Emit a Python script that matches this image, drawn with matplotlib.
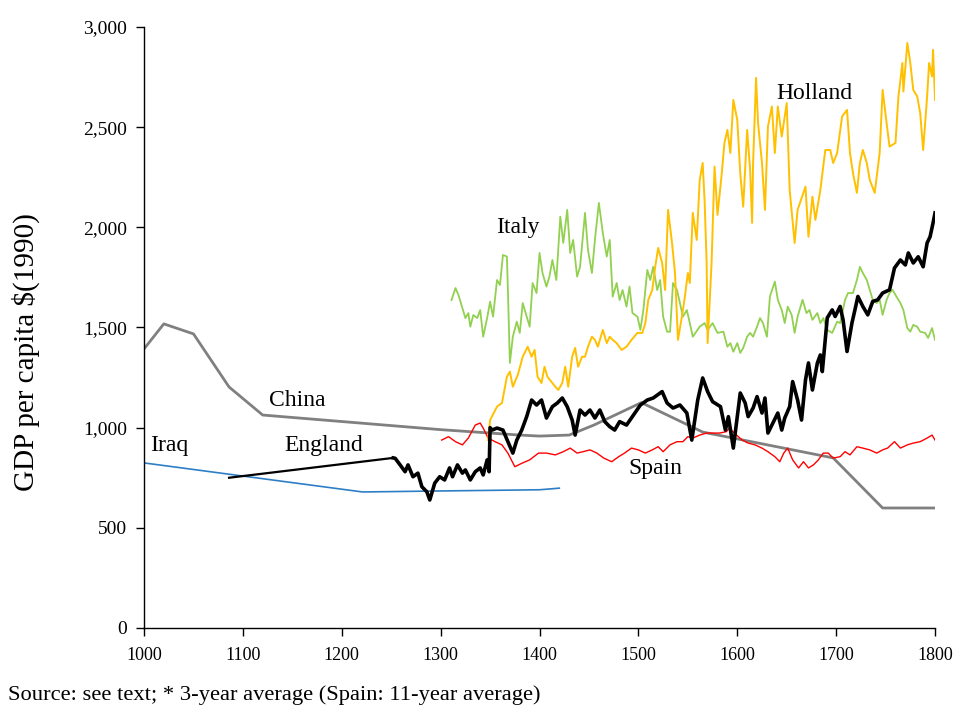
import matplotlib
matplotlib.use("Agg")
import matplotlib.pyplot as plt
from matplotlib.ticker import FuncFormatter

plt.rcParams['font.family'] = ['Liberation Serif', 'DejaVu Serif']

# ---------------- data ----------------
china_years = [1000, 1020, 1050, 1086, 1120, 1300, 1380, 1400, 1430, 1455, 1503, 1565, 1697, 1747, 1800]
china_vals = [1393, 1518, 1468, 1203, 1063, 990, 963, 958, 963, 1013, 1125, 978, 849, 599, 599]

iraq_years = [1000, 1221, 1300, 1400, 1420]
iraq_vals = [824, 679, 684, 690, 698]

eng_years = [1086, 1252, 1254, 1259, 1264, 1267, 1272, 1277, 1281, 1286,
             1289, 1294, 1299, 1304, 1309, 1312, 1317, 1322, 1325, 1330,
             1335, 1340, 1343, 1347, 1349, 1350, 1352, 1357, 1363, 1368,
             1373, 1377, 1382, 1387, 1392, 1397, 1402, 1407, 1413, 1418,
             1423, 1428, 1433, 1436, 1441, 1446, 1451, 1456, 1461, 1466,
             1471, 1476, 1481, 1488, 1495, 1502, 1509, 1515, 1524, 1529,
             1535, 1542, 1549, 1554, 1557, 1560, 1565, 1570, 1575, 1583,
             1588, 1591, 1596, 1603, 1608, 1611, 1616, 1620, 1625, 1628,
             1631, 1636, 1641, 1645, 1648, 1653, 1656, 1661, 1665, 1669,
             1672, 1676, 1681, 1684, 1686, 1691, 1696, 1699, 1704, 1707,
             1711, 1716, 1719, 1722, 1727, 1732, 1737, 1742, 1747, 1754,
             1759, 1765, 1770, 1773, 1778, 1783, 1788, 1792, 1795, 1798, 1800]
eng_vals = [750, 849, 847, 814, 780, 814, 755, 773, 705, 680,
            639, 723, 755, 739, 799, 755, 814, 773, 789, 739,
            780, 799, 764, 839, 780, 1000, 988, 998, 988, 930,
            873, 938, 988, 1055, 1138, 1113, 1138, 1048, 1105, 1123,
            1148, 1105, 1038, 963, 1088, 1063, 1088, 1048, 1088, 1030,
            1005, 988, 1030, 1013, 1063, 1113, 1138, 1148, 1180, 1123,
            1098, 1113, 1073, 938, 1038, 1138, 1248, 1180, 1130, 1105,
            988, 1055, 898, 1173, 1123, 1055, 1098, 1155, 1073, 1148,
            973, 1023, 1073, 988, 1048, 1105, 1230, 1138, 1038, 1238,
            1323, 1188, 1323, 1363, 1280, 1548, 1588, 1555, 1605, 1538,
            1380, 1523, 1588, 1655, 1605, 1563, 1630, 1638, 1672, 1688,
            1797, 1837, 1812, 1872, 1822, 1853, 1803, 1922, 1953, 2022, 2072]

italy_years = [1311, 1315, 1318, 1322, 1325, 1328, 1330, 1333, 1337, 1340,
               1343, 1347, 1350, 1353, 1357, 1360, 1363, 1367, 1368, 1370,
               1373, 1377, 1380, 1383, 1387, 1390, 1393, 1397, 1400, 1403,
               1407, 1410, 1413, 1417, 1421, 1424, 1428, 1431, 1434, 1438,
               1441, 1446, 1449, 1453, 1456, 1460, 1464, 1468, 1471, 1474,
               1478, 1481, 1484, 1488, 1491, 1494, 1499, 1502, 1505, 1509,
               1512, 1515, 1519, 1522, 1525, 1529, 1532, 1535, 1539, 1542,
               1545, 1549, 1552, 1555, 1562, 1567, 1570, 1575, 1580, 1586,
               1590, 1593, 1596, 1600, 1603, 1606, 1610, 1613, 1616, 1620,
               1623, 1626, 1630, 1633, 1638, 1641, 1645, 1648, 1651, 1655,
               1658, 1661, 1666, 1670, 1673, 1676, 1681, 1684, 1687, 1691,
               1696, 1701, 1704, 1709, 1712, 1717, 1721, 1724, 1727, 1731,
               1734, 1737, 1741, 1744, 1747, 1751, 1754, 1757, 1761, 1765,
               1768, 1772, 1775, 1778, 1782, 1785, 1790, 1793, 1797, 1800]
italy_vals = [1637, 1697, 1662, 1597, 1547, 1572, 1504, 1562, 1547, 1587,
              1454, 1547, 1629, 1554, 1737, 1712, 1862, 1854, 1687, 1323,
              1454, 1529, 1473, 1622, 1554, 1504, 1722, 1672, 1872, 1772,
              1704, 1754, 1837, 1737, 2053, 1922, 2087, 1872, 1937, 1754,
              1803, 2072, 1887, 1772, 1937, 2122, 1972, 1854, 1937, 1654,
              1722, 1637, 1687, 1604, 1704, 1572, 1554, 1488, 1587, 1787,
              1737, 1803, 1687, 1737, 1554, 1479, 1479, 1722, 1687, 1622,
              1554, 1587, 1522, 1454, 1504, 1522, 1488, 1522, 1473, 1479,
              1404, 1422, 1379, 1422, 1373, 1398, 1454, 1473, 1454, 1504,
              1547, 1522, 1454, 1654, 1729, 1638, 1587, 1522, 1604, 1563,
              1473, 1554, 1638, 1572, 1587, 1538, 1572, 1522, 1547, 1488,
              1473, 1529, 1522, 1638, 1672, 1672, 1737, 1803, 1772, 1737,
              1687, 1638, 1622, 1638, 1563, 1638, 1672, 1688, 1654, 1622,
              1587, 1497, 1479, 1513, 1504, 1479, 1473, 1448, 1497, 1438]

holland_years = [1348, 1350, 1357, 1362, 1367, 1370, 1373, 1378, 1383, 1388,
                 1392, 1395, 1398, 1402, 1405, 1408, 1413, 1416, 1419, 1423,
                 1426, 1429, 1433, 1436, 1439, 1443, 1446, 1449, 1453, 1456,
                 1459, 1464, 1468, 1471, 1474, 1478, 1483, 1488, 1493, 1499,
                 1504, 1507, 1510, 1514, 1517, 1520, 1524, 1527, 1530, 1534,
                 1537, 1540, 1544, 1547, 1550, 1552, 1555, 1559, 1562, 1565,
                 1567, 1569, 1570, 1574, 1577, 1580, 1584, 1587, 1590, 1593,
                 1596, 1600, 1603, 1606, 1610, 1613, 1615, 1616, 1619, 1621,
                 1625, 1628, 1631, 1635, 1638, 1641, 1645, 1650, 1653, 1658,
                 1661, 1669, 1672, 1676, 1679, 1684, 1689, 1694, 1697, 1701,
                 1706, 1711, 1714, 1717, 1721, 1724, 1727, 1731, 1734, 1739,
                 1744, 1747, 1751, 1754, 1760, 1763, 1767, 1768, 1772, 1775,
                 1778, 1782, 1785, 1788, 1792, 1794, 1797, 1798, 1800]
holland_vals = [938, 1038, 1105, 1123, 1254, 1280, 1204, 1263, 1354, 1404,
                1354, 1388, 1254, 1223, 1304, 1254, 1223, 1204, 1188, 1223,
                1304, 1204, 1354, 1398, 1304, 1354, 1354, 1404, 1454, 1438,
                1404, 1488, 1422, 1454, 1438, 1422, 1388, 1404, 1438, 1473,
                1473, 1522, 1638, 1687, 1803, 1897, 1822, 1687, 2087, 1922,
                1772, 1438, 1554, 1654, 1772, 1722, 2072, 1937, 2236, 2321,
                2128, 1822, 1422, 1822, 2303, 2062, 2253, 2421, 2486, 2371,
                2636, 2536, 2271, 2103, 2486, 2286, 2022, 2321, 2746, 2521,
                2321, 2087, 2503, 2603, 2371, 2603, 2453, 2620, 2186, 1922,
                2087, 2203, 1953, 2153, 2037, 2186, 2386, 2386, 2321, 2371,
                2553, 2586, 2371, 2271, 2172, 2321, 2386, 2321, 2236, 2172,
                2371, 2686, 2521, 2403, 2421, 2653, 2820, 2678, 2920, 2820,
                2686, 2653, 2570, 2386, 2653, 2820, 2753, 2886, 2636]

spain_years = [1301, 1308, 1315, 1322, 1328, 1335, 1340, 1343, 1348, 1355,
               1362, 1368, 1375, 1382, 1390, 1399, 1407, 1416, 1424, 1431,
               1438, 1444, 1451, 1458, 1465, 1473, 1480, 1486, 1493, 1500,
               1507, 1514, 1520, 1525, 1532, 1539, 1545, 1550, 1555, 1562,
               1569, 1575, 1582, 1589, 1592, 1597, 1605, 1611, 1618, 1625,
               1631, 1638, 1643, 1647, 1651, 1656, 1662, 1667, 1672, 1677,
               1682, 1687, 1692, 1697, 1704, 1709, 1714, 1721, 1727, 1734,
               1741, 1747, 1752, 1759, 1765, 1772, 1778, 1785, 1792, 1797, 1800]
spain_vals = [938, 955, 930, 914, 948, 1013, 1023, 998, 948, 930,
              914, 873, 805, 822, 839, 873, 873, 864, 880, 898,
              873, 880, 889, 873, 848, 830, 855, 873, 898, 889,
              873, 889, 905, 880, 914, 930, 930, 955, 948, 963,
              973, 973, 973, 980, 998, 973, 938, 923, 914, 898,
              880, 855, 830, 873, 898, 839, 799, 830, 799, 814,
              839, 873, 873, 848, 855, 880, 864, 905, 898, 889,
              873, 889, 898, 930, 898, 914, 923, 930, 948, 963, 938]

x_ticks = [1000, 1100, 1200, 1300, 1400, 1500, 1600, 1700, 1800]
y_ticks = [0, 500, 1000, 1500, 2000, 2500, 3000]

# ---------------- figure ----------------
fig = plt.figure(figsize=(9.59, 7.08), dpi=100)
ax = fig.add_axes([0.1502, 0.1130, 0.8248, 0.8489])

ax.plot(china_years, china_vals, color='#808080', lw=2.0, solid_joinstyle='round')
ax.plot(iraq_years, iraq_vals, color='#2E7EC6', lw=1.2)
ax.plot(spain_years, spain_vals, color='#FF0000', lw=1.0)
ax.plot(italy_years, italy_vals, color='#92D050', lw=1.3)
ax.plot(holland_years, holland_vals, color='#FFC000', lw=1.4)
ax.plot(eng_years[:2], eng_vals[:2], color='black', lw=1.6)
ax.plot(eng_years[1:], eng_vals[1:], color='black', lw=2.6, solid_joinstyle='round')

ax.set_xlim(1000, 1800)
ax.set_ylim(0, 3000)
ax.set_xticks(x_ticks)
ax.set_yticks(y_ticks)
ax.yaxis.set_major_formatter(FuncFormatter(lambda v, p: f"{int(v):,}"))
ax.tick_params(axis='x', direction='out', length=6, width=1, labelsize=13, pad=8)
ax.tick_params(axis='y', direction='out', length=6, width=1, labelsize=14, pad=6)
for s in ['top', 'right']:
    ax.spines[s].set_visible(False)
for s in ['left', 'bottom']:
    ax.spines[s].set_linewidth(1.0)

ax.set_ylabel('GDP per capita $(1990)', fontsize=21, va='center')
ax.yaxis.set_label_coords(-0.149, 0.459)

lab_fs = 17
ax.text(1155, 1138, 'China', fontsize=lab_fs, ha='center', va='center')
ax.text(1025, 909, 'Iraq', fontsize=lab_fs, ha='center', va='center')
ax.text(1182, 909, 'England', fontsize=lab_fs, ha='center', va='center')
ax.text(1378, 1997, 'Italy', fontsize=lab_fs, ha='center', va='center')
ax.text(1678, 2666, 'Holland', fontsize=lab_fs, ha='center', va='center')
ax.text(1517, 794, 'Spain', fontsize=lab_fs, ha='center', va='center')

fig.text(8/959, 1 - 695/708, 'Source: see text; * 3-year average (Spain: 11-year average)',
         fontsize=16.2, ha='left', va='center')

fig.savefig('out.png', dpi=100)
